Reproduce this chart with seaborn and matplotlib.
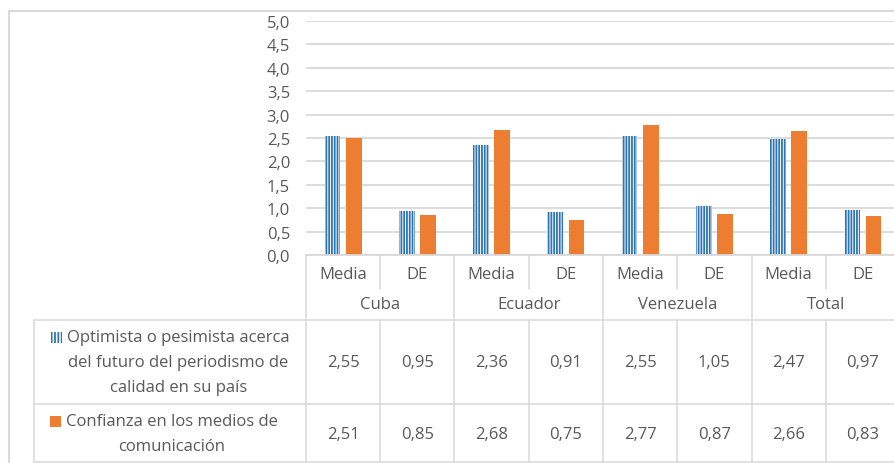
import numpy as np
import pandas as pd
import seaborn as sns
import matplotlib
matplotlib.use("Agg")
import matplotlib.pyplot as plt
from matplotlib.lines import Line2D
from matplotlib.patches import Rectangle
import matplotlib.transforms as mtransforms

# ---------------- data ----------------
countries = ["Cuba", "Ecuador", "Venezuela", "Total"]
stats = ["Media", "DE"]
series = ["Optimista o pesimista acerca del futuro del periodismo de calidad en su país",
          "Confianza en los medios de comunicación"]
series_lines = [["Optimista o pesimista acerca", "del futuro del periodismo de", "calidad en su país"],
                ["Confianza en los medios de", "comunicación"]]
optimista = [2.55, 0.95, 2.36, 0.91, 2.55, 1.05, 2.47, 0.97]
confianza = [2.51, 0.85, 2.68, 0.75, 2.77, 0.87, 2.66, 0.83]
yticks = [0.0, 0.5, 1.0, 1.5, 2.0, 2.5, 3.0, 3.5, 4.0, 4.5, 5.0]

BLUE = "#2E75B6"
ORANGE = "#ED7D31"
GRID = "#D9D9D9"
TXT = "#595959"

cats = [f"{c} {s}" for c in countries for s in stats]
df = pd.DataFrame({
    "cat": cats * 2,
    "serie": [series[0]] * len(cats) + [series[1]] * len(cats),
    "valor": optimista + confianza,
})

sns.set_theme(style="white")
plt.rcParams["font.family"] = ["Open Sans", "DejaVu Sans"]
plt.rcParams["hatch.linewidth"] = 1.3

W, H = 895, 464
fig = plt.figure(figsize=(W / 100, H / 100), dpi=100)
fx = lambda x: x / W
fy = lambda y: 1 - y / H

ax = fig.add_axes([fx(306), fy(256), 594 / W, 234 / H])
sns.barplot(data=df, x="cat", y="valor", hue="serie", order=cats, hue_order=series,
            palette=[BLUE, ORANGE], saturation=1, width=0.57, gap=0.26,
            legend=False, errorbar=None, ax=ax)
for p in ax.containers[0]:
    p.set_facecolor("white")
    p.set_edgecolor(BLUE)
    p.set_hatch("||||||")
    p.set_linewidth(0)
for p in ax.containers[1]:
    p.set_linewidth(0)

ax.set_xlim(-0.5, len(cats) - 0.5)
ax.set_ylim(0, 5)
ax.set_yticks(yticks)
ax.set_yticklabels([f"{t:.1f}".replace(".", ",") for t in yticks])
ax.grid(axis="y", color=GRID, lw=1.3)
ax.set_axisbelow(True)
ax.set_xticks([])
ax.set_xlabel("")
ax.set_ylabel("")
for s in ["top", "right", "left"]:
    ax.spines[s].set_visible(False)
ax.spines["bottom"].set_color(GRID)
ax.spines["bottom"].set_linewidth(1.3)

FS = 12
ax.tick_params(axis="y", length=0, pad=11.5, labelsize=FS, labelcolor=TXT)

bt = mtransforms.blended_transform_factory(ax.transData, fig.transFigure)

def fline(xs, ys, transform):
    fig.add_artist(Line2D(xs, ys, transform=transform, color=GRID, lw=1.1, clip_on=False))

# category separators
for k in range(len(cats) + 1):
    x = -0.5 + k
    if k % 2 == 0:
        fline([x, x], [fy(256), fy(464)], bt)
    else:
        fline([x, x], [fy(256), fy(290)], bt)
        fline([x, x], [fy(321), fy(464)], bt)

# table horizontal lines and left border
for y in [321, 405, 463]:
    fline([fx(34), 1.02], [fy(y), fy(y)], fig.transFigure)
fline([fx(34), fx(34)], [fy(321), fy(463)], fig.transFigure)

# outer chart border
fig.add_artist(Line2D([fx(8.5), fx(8.5)], [fy(11.5), 0], transform=fig.transFigure, color=GRID, lw=1.5))
fig.add_artist(Line2D([fx(8.5), 1.0], [fy(11.5), fy(11.5)], transform=fig.transFigure, color=GRID, lw=1.5))

# category labels
for i, c in enumerate(cats):
    ax.text(i, fy(275), stats[i % 2], transform=bt, ha="center", va="center", fontsize=FS, color=TXT)
for j, c in enumerate(countries):
    ax.text(2 * j + 0.5, fy(305), c, transform=bt, ha="center", va="center", fontsize=FS, color=TXT)

# table values
for vals, y in [(optimista, 363), (confianza, 435)]:
    for i, v in enumerate(vals):
        ax.text(i, fy(y), f"{v:.2f}".replace(".", ","), transform=bt, ha="center", va="center",
                fontsize=FS, color=TXT)

# row headers
row_y = [[338, 363, 388], [422, 447]]
row_cx = [178.5, 171.5]
first_lines = []
for r in range(2):
    for li, (line, y) in enumerate(zip(series_lines[r], row_y[r])):
        t = fig.text(fx(row_cx[r]), fy(y), line, ha="center", va="center", fontsize=FS, color=TXT)
        if li == 0:
            first_lines.append(t)

fig.canvas.draw()
rend = fig.canvas.get_renderer()
for r, t in enumerate(first_lines):
    bb = t.get_window_extent(rend)
    x0 = bb.x0 - 5 - 11
    yc = fy(row_y[r][0]) * H
    if r == 0:
        rect = Rectangle((x0 / W, (yc - 5.5) / H), 11 / W, 11 / H, transform=fig.transFigure,
                         facecolor="white", edgecolor=BLUE, hatch="|||||", lw=0)
    else:
        rect = Rectangle((x0 / W, (yc - 5.5) / H), 11 / W, 11 / H, transform=fig.transFigure,
                         facecolor=ORANGE, edgecolor=ORANGE, lw=0)
    fig.add_artist(rect)

fig.savefig("out.png", dpi=100)
